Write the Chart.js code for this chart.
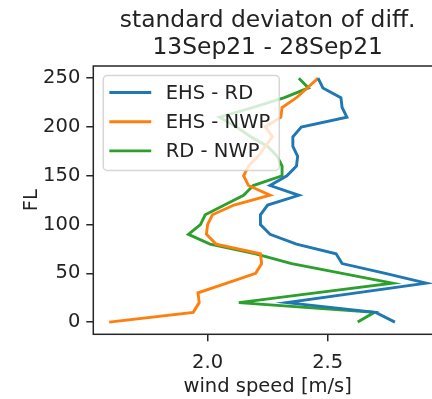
<!DOCTYPE html>
<html>
<head>
<meta charset="utf-8">
<script src="https://cdn.jsdelivr.net/npm/chart.js@4"></script>
<style>
  html, body { margin: 0; padding: 0; background: #fff; overflow: hidden; }
  #wrap { width: 432px; height: 399px; overflow: hidden; }
  canvas { display: block; }
</style>
</head>
<body>
<div id="wrap"><canvas id="chart" width="446" height="399"></canvas></div>
<script>
// flight levels (y) and std dev of wind speed difference (x, m/s)
const levels = [0, 10, 20, 30, 40, 50, 60, 70, 80, 90, 100, 110, 120, 130, 140, 150, 160, 170, 180, 190, 200, 210, 220, 230, 240, 250];
const ehsRd  = [2.78, 2.70, 2.33, 2.62, 2.91, 2.74, 2.56, 2.535, 2.37, 2.26, 2.22, 2.22, 2.25, 2.38, 2.26, 2.33, 2.37, 2.375, 2.355, 2.355, 2.39, 2.58, 2.56, 2.555, 2.48, 2.46];
const ehsNwp = [1.59, 1.94, 1.965, 1.96, 2.08, 2.20, 2.225, 2.22, 2.035, 1.995, 2.00, 2.02, 2.11, 2.26, 2.17, 2.15, 2.17, 2.21, 2.24, 2.27, 2.24, 2.305, 2.31, 2.37, 2.415, 2.46];
const rdNwp  = [2.625, 2.695, 2.13, 2.45, 2.77, 2.56, 2.35, 2.20, 2.01, 1.92, 1.97, 1.99, 2.07, 2.15, 2.19, 2.31, 2.31, 2.29, 2.25, 2.18, 2.12, 2.05, 2.19, 2.32, 2.42, 2.38];

const seriesLabels = ["EHS - RD", "EHS - NWP", "RD - NWP"];
const seriesColors = ["#1f77b4", "#ff7f0e", "#2ca02c"];
const xTicks = [2.0, 2.5];
const yTicks = [0, 50, 100, 150, 200, 250];
const titleLines = ["standard deviaton of diff.", "13Sep21 - 28Sep21"];

const FONT = "DejaVu Sans";
const textSize = 19.5;
const titleSize = 23.4;
const ink = "#222";

// spines, legend box and title drawn by hand (matplotlib look)
const decorations = {
  id: "decorations",
  afterDatasetsDraw(chart) {
    const { ctx, chartArea: a } = chart;
    ctx.save();
    ctx.strokeStyle = "#262626";
    ctx.lineWidth = 1.5;
    ctx.strokeRect(a.left, a.top, a.right - a.left, a.bottom - a.top);

    const bx = a.left + 10, by = a.top + 9.5, bw = 176, bh = 95;
    ctx.beginPath();
    ctx.roundRect(bx, by, bw, bh, 4);
    ctx.fillStyle = "rgba(255,255,255,0.8)";
    ctx.fill();
    ctx.strokeStyle = "rgba(204,204,204,0.8)";
    ctx.lineWidth = 1.5;
    ctx.stroke();

    ctx.font = `${textSize}px "${FONT}"`;
    ctx.textBaseline = "middle";
    ctx.textAlign = "left";
    chart.data.datasets.forEach((ds, i) => {
      const y = by + 17 + i * 29.2;
      ctx.strokeStyle = ds.borderColor;
      ctx.lineWidth = 2.9;
      ctx.lineCap = "square";
      ctx.beginPath();
      ctx.moveTo(bx + 7.5, y);
      ctx.lineTo(bx + 46.5, y);
      ctx.stroke();
      ctx.fillStyle = ink;
      ctx.fillText(ds.label, bx + 62.5, y + 1);
    });
    ctx.restore();
  },
  afterDraw(chart) {
    const { ctx, chartArea: a } = chart;
    ctx.save();
    ctx.font = `${titleSize}px "${FONT}"`;
    ctx.fillStyle = ink;
    ctx.textAlign = "center";
    ctx.textBaseline = "alphabetic";
    const cx = (a.left + a.right) / 2;
    titleLines.forEach((t, i) => ctx.fillText(t, cx, 27 + i * 27));
    ctx.restore();
  }
};

const datasets = [ehsRd, ehsNwp, rdNwp].map((vals, i) => ({
  label: seriesLabels[i],
  data: levels.map((fl, k) => ({ x: vals[k], y: fl })),
  borderColor: seriesColors[i],
  backgroundColor: seriesColors[i],
  borderWidth: 2.9,
  pointRadius: 0,
  tension: 0,
  fill: false
}));

new Chart(document.getElementById("chart"), {
  type: "line",
  data: { datasets },
  options: {
    responsive: false,
    animation: false,
    devicePixelRatio: 1,
    layout: { padding: { top: 66, right: 4, left: 0, bottom: 0 } },
    plugins: {
      legend: { display: false },
      title: { display: false },
      tooltip: { enabled: false }
    },
    scales: {
      x: {
        type: "linear",
        min: 1.524,
        max: 2.976,
        afterBuildTicks: (s) => { s.ticks = xTicks.map(v => ({ value: v })); },
        afterFit: (s) => { s.height = 64.7; },
        border: { display: false },
        grid: { drawOnChartArea: false, drawTicks: true, tickLength: 7, color: "#262626", lineWidth: 1.5 },
        ticks: {
          autoSkip: false,
          padding: 10,
          color: ink,
          font: { family: FONT, size: textSize },
          callback: (v) => Number(v).toFixed(1)
        },
        title: {
          display: true,
          text: "wind speed [m/s]",
          color: ink,
          font: { family: FONT, size: textSize },
          padding: { top: 0, bottom: 0 }
        }
      },
      y: {
        type: "linear",
        min: -12.5,
        max: 262.5,
        afterBuildTicks: (s) => { s.ticks = yTicks.map(v => ({ value: v })); },
        afterFit: (s) => { s.width = 93.3; },
        border: { display: false },
        grid: { drawOnChartArea: false, drawTicks: true, tickLength: 7, color: "#262626", lineWidth: 1.5 },
        ticks: {
          autoSkip: false,
          padding: 6,
          color: ink,
          font: { family: FONT, size: textSize },
          callback: (v) => String(v)
        },
        title: {
          display: true,
          text: "FL",
          color: ink,
          font: { family: FONT, size: textSize },
          padding: { top: 20, bottom: 0 }
        }
      }
    }
  },
  plugins: [decorations]
});
</script>
</body>
</html>
